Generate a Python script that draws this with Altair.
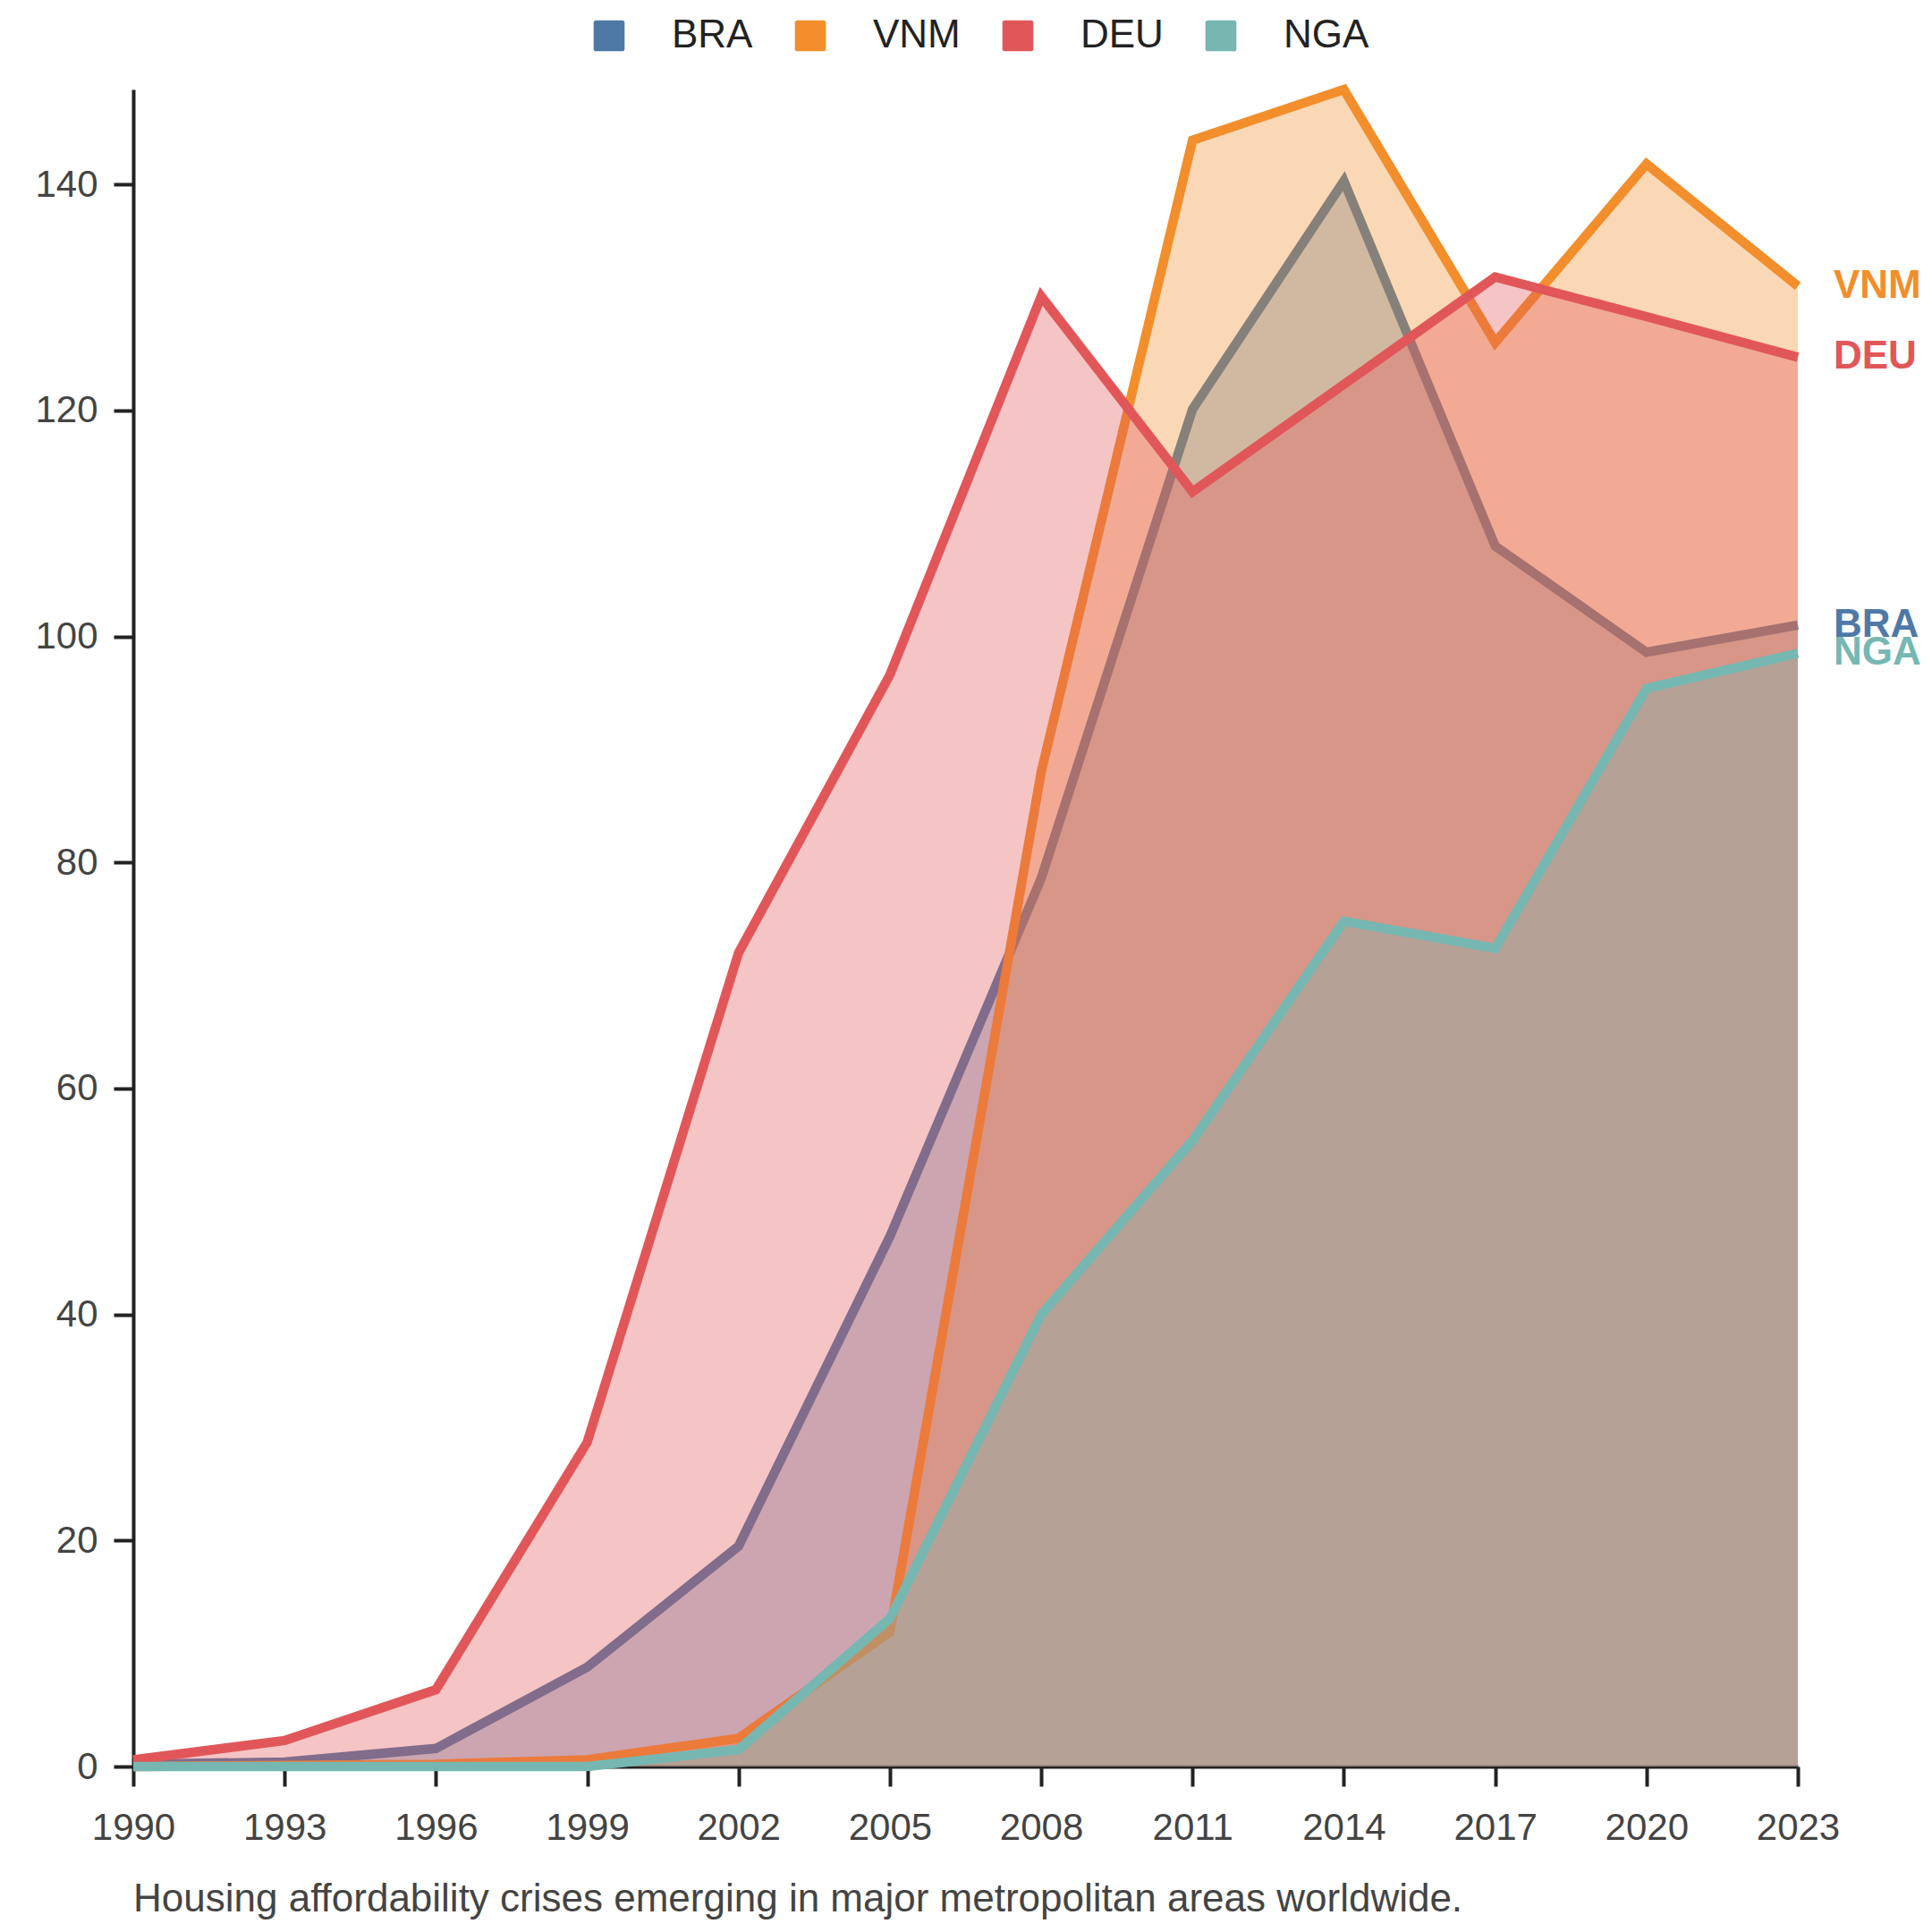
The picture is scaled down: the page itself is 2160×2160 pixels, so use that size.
import altair as alt
import pandas as pd

# ---------------------------------------------------------------------------
# data
# ---------------------------------------------------------------------------
years = [1990, 1993, 1996, 1999, 2002, 2005, 2008, 2011, 2014, 2017, 2020, 2023]
countries = ["BRA", "VNM", "DEU", "NGA"]
colors = ["#4e79a7", "#f28e2b", "#e15759", "#76b7b2"]

bra = [0.2, 0.4, 1.6, 8.8, 19.5, 46.9, 78.6, 120.1, 140.3, 108.0, 98.6, 101.0]
vnm = [0.0, 0.1, 0.2, 0.6, 2.5, 11.9, 88.0, 143.9, 148.4, 126.0, 141.8, 131.0]
deu = [0.6, 2.3, 6.8, 28.7, 72.0, 96.6, 130.1, 112.8, 122.3, 131.8, 128.3, 124.7]
nga = [0.0, 0.0, 0.0, 0.0, 1.5, 13.1, 40.0, 55.4, 74.8, 72.4, 95.4, 98.5]

y_ticks = [0, 20, 40, 60, 80, 100, 120, 140]
caption = "Housing affordability crises emerging in major metropolitan areas worldwide."

series = {"BRA": bra, "VNM": vnm, "DEU": deu, "NGA": nga}

FONT = "Liberation Sans, Arial, sans-serif"
ROUNDED_SQUARE = (
    "M-1,-0.83 Q-1,-1 -0.83,-1 L0.83,-1 Q1,-1 1,-0.83 L1,0.83 "
    "Q1,1 0.83,1 L-0.83,1 Q-1,1 -1,0.83 Z"
)

color_scale = alt.Scale(domain=countries, range=colors)

x_enc = alt.X(
    "year:Q",
    scale=alt.Scale(domain=[years[0], years[-1]], nice=False, zero=False),
    axis=alt.Axis(values=years, format="d", title=None, grid=False,
                  labelPadding=26, labelFlush=False),
)
y_enc = alt.Y(
    "value:Q",
    scale=alt.Scale(nice=False, zero=True),
    axis=alt.Axis(values=y_ticks, title=None, grid=False, labelPadding=18),
)

legend = alt.Legend(
    title=None,
    orient="none",
    direction="horizontal",
    legendX=510,
    legendY=-82,
    symbolType=ROUNDED_SQUARE,
    symbolSize=1200,
    symbolOpacity=1,
    symbolStrokeWidth=0,
    labelFont=FONT,
    labelFontSize=44,
    labelColor="#222222",
    labelOffset=48,
    columnPadding=42,
    padding=0,
)

layers = []
for i, name in enumerate(countries):
    df = pd.DataFrame({"year": years, "value": series[name], "country": name})

    area = alt.Chart(df).mark_area(opacity=0.35).encode(
        x=x_enc,
        y=y_enc,
        color=alt.Color("country:N", scale=color_scale,
                        legend=legend if i == 0 else None),
    )
    line = alt.Chart(df).mark_line(strokeWidth=10.5, strokeJoin="miter").encode(
        x="year:Q",
        y="value:Q",
        color=alt.Color("country:N", scale=color_scale, legend=None),
    )
    layers += [area, line]

# end-of-line labels
end_df = pd.DataFrame({
    "year": [years[-1]] * len(countries),
    "value": [series[c][-1] for c in countries],
    "country": countries,
})
labels = alt.Chart(end_df).mark_text(
    align="left", baseline="middle", dx=40,
    font=FONT, fontSize=44, fontWeight="bold",
).encode(
    x="year:Q",
    y="value:Q",
    text="country:N",
    color=alt.Color("country:N", scale=color_scale, legend=None),
)
layers.append(labels)

chart = alt.layer(*layers).properties(
    width=1861,
    height=1875,
    autosize=alt.AutoSizeParams(type="none"),
    padding={"left": 141, "top": 92, "right": 142, "bottom": 177},
    title=alt.TitleParams(
        text=caption,
        orient="bottom",
        anchor="start",
        frame="group",
        font=FONT,
        fontSize=44,
        fontWeight="normal",
        color="#444444",
        offset=38,
    ),
).configure_view(
    stroke=None
).configure_axis(
    domainColor="#222222",
    domainWidth=4,
    tickColor="#222222",
    tickWidth=4,
    tickSize=22,
    labelColor="#444444",
    labelFont=FONT,
    labelFontSize=42,
)

chart.save("out.html", embed_options={"renderer": "svg", "actions": False})
